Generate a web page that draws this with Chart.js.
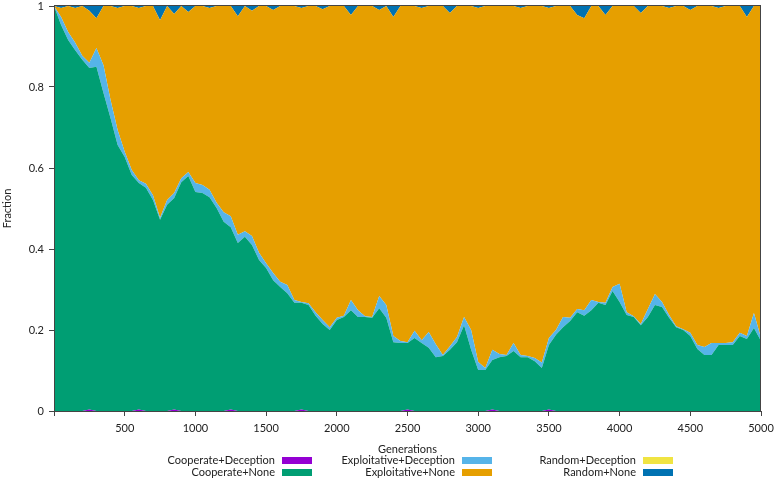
<!DOCTYPE html>
<html>
<head>
<meta charset="utf-8">
<script src="https://cdn.jsdelivr.net/npm/chart.js@4.4.1/dist/chart.umd.min.js"></script>
<style>
body { margin: 0; background: #fff; }
#wrap { position: relative; width: 777px; height: 480px; font-family: Lato, sans-serif; }
.ltxt { position: absolute; font-size: 11px; line-height: 14px; color: #222; white-space: nowrap; }
.lbox { position: absolute; width: 30px; height: 7px; }
</style>
</head>
<body>
<div id="wrap">
  <canvas id="chart" width="777" height="480"></canvas>
  <div id="legend"></div>
</div>
<script>
// generations sampled every 50
const generations = [
  0, 50, 100, 150, 200, 250, 300, 350, 400, 450,
  500, 550, 600, 650, 700, 750, 800, 850, 900, 950,
  1000, 1050, 1100, 1150, 1200, 1250, 1300, 1350, 1400, 1450,
  1500, 1550, 1600, 1650, 1700, 1750, 1800, 1850, 1900, 1950,
  2000, 2050, 2100, 2150, 2200, 2250, 2300, 2350, 2400, 2450,
  2500, 2550, 2600, 2650, 2700, 2750, 2800, 2850, 2900, 2950,
  3000, 3050, 3100, 3150, 3200, 3250, 3300, 3350, 3400, 3450,
  3500, 3550, 3600, 3650, 3700, 3750, 3800, 3850, 3900, 3950,
  4000, 4050, 4100, 4150, 4200, 4250, 4300, 4350, 4400, 4450,
  4500, 4550, 4600, 4650, 4700, 4750, 4800, 4850, 4900, 4950,
  5000
];

const cooperateDeception = [
  0, 0, 0, 0, 0, 0.004, 0, 0, 0, 0,
  0, 0, 0.004, 0, 0, 0, 0, 0.004, 0, 0,
  0, 0, 0, 0, 0, 0.004, 0, 0, 0, 0,
  0, 0, 0, 0, 0, 0.004, 0, 0, 0, 0,
  0, 0, 0, 0, 0, 0, 0, 0, 0, 0,
  0.004, 0, 0, 0, 0, 0, 0, 0, 0, 0,
  0, 0, 0.004, 0, 0, 0, 0, 0, 0, 0,
  0.004, 0, 0, 0, 0, 0, 0, 0, 0, 0,
  0, 0, 0, 0, 0, 0, 0, 0, 0, 0,
  0, 0, 0, 0, 0, 0, 0, 0, 0, 0,
  0
];

const cooperateNone = [
  1.000, 0.953, 0.916, 0.891, 0.867, 0.843, 0.850, 0.785, 0.723, 0.657,
  0.627, 0.583, 0.559, 0.551, 0.521, 0.472, 0.509, 0.522, 0.565, 0.580,
  0.541, 0.538, 0.528, 0.501, 0.467, 0.450, 0.415, 0.430, 0.410, 0.373,
  0.353, 0.323, 0.306, 0.291, 0.267, 0.263, 0.262, 0.235, 0.215, 0.200,
  0.225, 0.232, 0.249, 0.232, 0.232, 0.230, 0.254, 0.230, 0.170, 0.168,
  0.164, 0.180, 0.168, 0.156, 0.133, 0.136, 0.151, 0.170, 0.212, 0.151,
  0.101, 0.101, 0.122, 0.133, 0.136, 0.148, 0.133, 0.133, 0.123, 0.106,
  0.159, 0.188, 0.207, 0.222, 0.244, 0.235, 0.249, 0.267, 0.262, 0.296,
  0.269, 0.237, 0.232, 0.212, 0.232, 0.262, 0.257, 0.230, 0.207, 0.200,
  0.185, 0.153, 0.138, 0.138, 0.163, 0.163, 0.163, 0.185, 0.178, 0.205,
  0.173
];

const exploitativeDeception = [
  0, 0.020, 0.020, 0.018, 0.010, 0.013, 0.046, 0.069, 0.045, 0.037,
  0.013, 0.012, 0.007, 0.010, 0.012, 0.005, 0.012, 0.012, 0.010, 0.010,
  0.022, 0.020, 0.018, 0.013, 0.024, 0.027, 0.020, 0.014, 0.022, 0.018,
  0.012, 0.018, 0.013, 0.020, 0.007, 0.002, 0.004, 0.009, 0.010, 0.007,
  0.005, 0.003, 0.025, 0.017, 0.002, 0.002, 0.030, 0.032, 0.015, 0.005,
  0.002, 0.018, 0.007, 0.039, 0.032, 0.002, 0.009, 0.013, 0.020, 0.049,
  0.020, 0.005, 0.025, 0.008, 0.002, 0.020, 0.005, 0.003, 0.008, 0.014,
  0.017, 0.012, 0.025, 0.008, 0.008, 0.014, 0.025, 0.002, 0.005, 0.010,
  0.045, 0.007, 0.002, 0.003, 0.020, 0.027, 0.012, 0.007, 0.002, 0.002,
  0.008, 0.010, 0.020, 0.030, 0.005, 0.005, 0.007, 0.008, 0.007, 0.037,
  0.007
];

const exploitativeNone = [
  0, 0.022, 0.064, 0.086, 0.123, 0.128, 0.074, 0.146, 0.232, 0.301,
  0.360, 0.405, 0.425, 0.439, 0.467, 0.488, 0.479, 0.442, 0.425, 0.395,
  0.437, 0.442, 0.449, 0.486, 0.509, 0.519, 0.540, 0.556, 0.556, 0.609,
  0.635, 0.649, 0.681, 0.689, 0.726, 0.726, 0.734, 0.756, 0.767, 0.793,
  0.770, 0.765, 0.704, 0.751, 0.766, 0.768, 0.706, 0.738, 0.788, 0.827,
  0.830, 0.802, 0.820, 0.805, 0.835, 0.862, 0.823, 0.817, 0.768, 0.800,
  0.874, 0.894, 0.849, 0.859, 0.862, 0.832, 0.857, 0.864, 0.869, 0.880,
  0.815, 0.800, 0.768, 0.770, 0.726, 0.721, 0.726, 0.731, 0.711, 0.694,
  0.686, 0.756, 0.766, 0.768, 0.748, 0.711, 0.731, 0.758, 0.791, 0.798,
  0.797, 0.837, 0.842, 0.832, 0.827, 0.832, 0.830, 0.807, 0.788, 0.758,
  0.820
];

const randomDeception = [
  0, 0, 0, 0, 0, 0, 0, 0, 0, 0,
  0, 0, 0, 0, 0, 0, 0, 0, 0, 0,
  0, 0, 0, 0, 0, 0, 0, 0, 0, 0,
  0, 0, 0, 0, 0, 0, 0, 0, 0, 0,
  0, 0, 0, 0, 0, 0, 0, 0, 0, 0,
  0, 0, 0, 0, 0, 0, 0, 0, 0, 0,
  0, 0, 0, 0, 0, 0, 0, 0, 0, 0,
  0, 0, 0, 0, 0, 0, 0, 0, 0, 0,
  0, 0, 0, 0, 0, 0, 0, 0, 0, 0,
  0, 0, 0, 0, 0, 0, 0, 0, 0, 0,
  0
];

const randomNone = [
  0, 0.005, 0, 0.005, 0, 0.012, 0.030, 0, 0, 0.005,
  0, 0, 0.005, 0, 0, 0.035, 0, 0.020, 0, 0.015,
  0, 0, 0.005, 0, 0, 0, 0.025, 0, 0.012, 0,
  0, 0.010, 0, 0, 0, 0.005, 0, 0, 0.008, 0,
  0, 0, 0.022, 0, 0, 0, 0.010, 0, 0.027, 0,
  0, 0, 0.005, 0, 0, 0, 0.017, 0, 0, 0,
  0.005, 0, 0, 0, 0, 0, 0.005, 0, 0, 0,
  0.005, 0, 0, 0, 0.022, 0.030, 0, 0, 0.022, 0,
  0, 0, 0, 0.017, 0, 0, 0, 0.005, 0, 0,
  0.010, 0, 0, 0, 0.005, 0, 0, 0, 0.027, 0,
  0
];

const seriesNames = [
  "Cooperate+Deception", "Cooperate+None",
  "Exploitative+Deception", "Exploitative+None",
  "Random+Deception", "Random+None"
];
const seriesValues = [
  cooperateDeception, cooperateNone,
  exploitativeDeception, exploitativeNone,
  randomDeception, randomNone
];
const seriesColors = ["#9400d3", "#009e73", "#56b4e9", "#e69f00", "#f0e442", "#0072b2"];

const xTicks = [0, 500, 1000, 1500, 2000, 2500, 3000, 3500, 4000, 4500, 5000];
const yTicks = [0, 0.2, 0.4, 0.6, 0.8, 1];

const font = { family: "Lato", size: 11 };

const datasets = seriesNames.map((name, i) => ({
  label: name,
  data: generations.map((g, j) => ({ x: g, y: seriesValues[i][j] })),
  backgroundColor: seriesColors[i],
  borderColor: seriesColors[i],
  borderWidth: 0,
  pointRadius: 0,
  tension: 0,
  fill: i === 0 ? "origin" : "-1"
}));

// box round the plot, like gnuplot's border
const frame = {
  id: "frame",
  afterDatasetsDraw(c) {
    const a = c.chartArea, ctx = c.ctx;
    ctx.save();
    ctx.strokeStyle = "#444";
    ctx.lineWidth = 1;
    ctx.strokeRect(Math.round(a.left) + 0.5, Math.round(a.top) - 0.5,
      Math.round(a.right - a.left) - 1, Math.round(a.bottom - a.top) + 1);
    ctx.restore();
  }
};

const chart = new Chart(document.getElementById("chart"), {
  type: "line",
  data: { datasets },
  plugins: [frame],
  options: {
    responsive: false,
    animation: false,
    devicePixelRatio: 1,
    layout: { padding: { top: 6, right: 16, bottom: 24, left: 0 } },
    plugins: { legend: { display: false }, tooltip: { enabled: false } },
    scales: {
      x: {
        type: "linear",
        min: 0,
        max: 5000,
        afterBuildTicks: s => { s.ticks = xTicks.map(v => ({ value: v })); },
        afterFit: s => { s.height = 45; s.paddingLeft = 0; s.paddingRight = 0; },
        ticks: {
          color: "#222", font, padding: 6, maxRotation: 0, autoSkip: false,
          callback: v => (v === 0 ? "" : String(v))
        },
        grid: { drawOnChartArea: false, color: "#444", tickLength: 5 },
        border: { display: false },
        title: { display: true, text: "Generations", color: "#222", font, padding: 0 }
      },
      y: {
        stacked: true,
        min: 0,
        max: 1,
        afterBuildTicks: s => { s.ticks = yTicks.map(v => ({ value: v })); },
        afterFit: s => { s.width = 54; s.paddingTop = 0; s.paddingBottom = 0; },
        ticks: { color: "#222", font, padding: 5, callback: v => String(+v.toFixed(1)) },
        grid: { drawOnChartArea: false, color: "#444", tickLength: 5 },
        border: { display: false },
        title: { display: true, text: "Fraction", color: "#222", font, padding: { top: 1, bottom: 0 } }
      }
    }
  }
});

// legend: text on the left, colour swatch on the right, 3 columns x 2 rows
const legendCols = [282, 462, 643];
const legendRows = [460, 472];
const legend = document.getElementById("legend");
chart.data.datasets.forEach((ds, i) => {
  const col = Math.floor(i / 2), row = i % 2;
  const t = document.createElement("div");
  t.className = "ltxt";
  t.textContent = ds.label;
  t.style.right = (777 - legendCols[col] + 7) + "px";
  t.style.top = (legendRows[row] - 7) + "px";
  legend.appendChild(t);
  const b = document.createElement("div");
  b.className = "lbox";
  b.style.left = legendCols[col] + "px";
  b.style.top = (legendRows[row] - 3) + "px";
  b.style.background = ds.backgroundColor;
  legend.appendChild(b);
});
</script>
</body>
</html>
